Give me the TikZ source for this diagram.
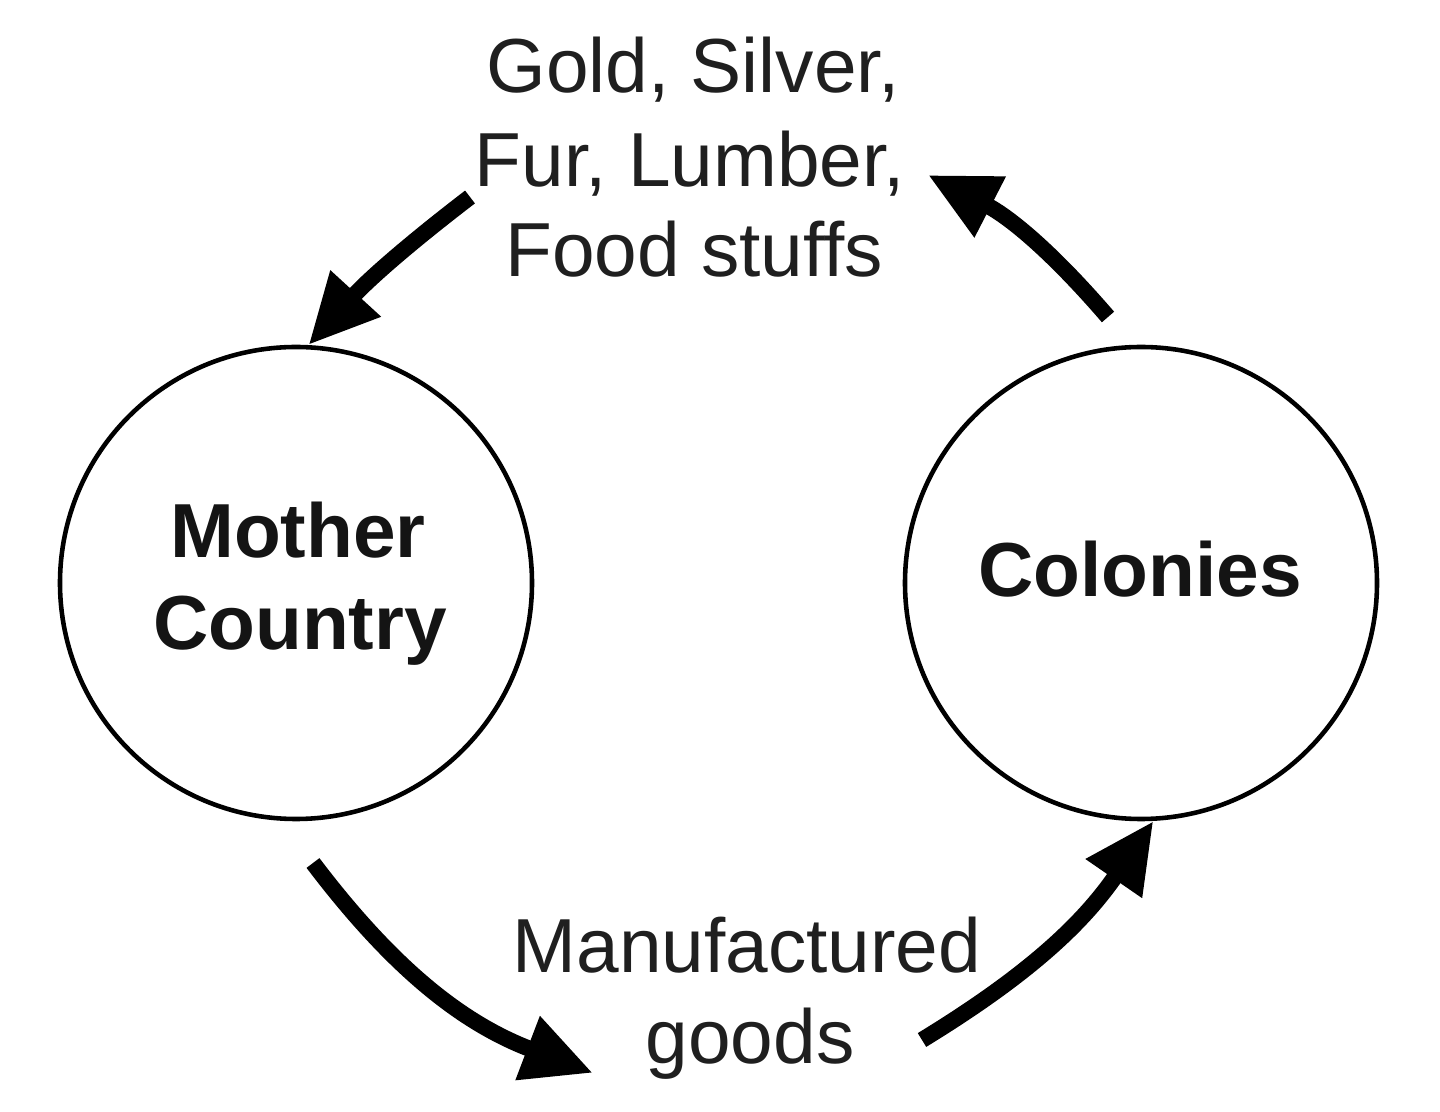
\documentclass[tikz,border=0pt]{standalone}
\usepackage{fontspec}
\setmainfont{Liberation Sans}
\usetikzlibrary{arrows.meta}
\begin{document}
\begin{tikzpicture}[
  circ/.style={draw=black, line width=1.3pt, circle, minimum size=4.72cm, inner sep=0pt},
  lbl/.style={font=\fontsize{21.8}{26.2}\selectfont, anchor=base, inner sep=0pt, text=black!88},
  blbl/.style={font=\fontsize{21.8}{26.2}\selectfont\bfseries, anchor=base, inner sep=0pt, text=black!92},
  flow/.style={line width=4.6pt, -{Triangle[length=0.7cm, width=0.64cm]}}
]
\useasboundingbox (0,0) rectangle (14.4,11.11);
\node[circ] (mother) at (2.96,5.28) {};
\node[circ] (colonies) at (11.41,5.28) {};
\node[blbl] (m1) at (2.98,5.53) {Mother};
\node[blbl] (m2) at (3.00,4.61) {Country};
\node[blbl] (c1) at (11.40,5.14) {Colonies};
\node[lbl] (g1) at (6.93,10.18) {Gold, Silver,};
\node[lbl] (g2) at (6.90,9.24) {Fur, Lumber,};
\node[lbl] (g3) at (6.94,8.34) {Food stuffs};
\node[lbl] (f1) at (7.47,1.38) {Manufactured};
\node[lbl] (f2) at (7.50,0.48) {goods};
\coordinate (a1s) at (4.70,9.14);
\coordinate (a2s) at (11.08,7.94);
\coordinate (a2e) at (9.28,9.36);
\coordinate (a3s) at (3.13,2.48);
\coordinate (a3e) at (5.93,0.38);
\coordinate (a4s) at (9.22,0.71);
\draw[flow] (a1s) to[bend right=5] (mother.87);
\draw[flow] (a2s) to[bend right=11] (a2e);
\draw[flow] (a3s) to[bend right=16] (a3e);
\draw[flow] (a4s) to[bend right=12] (colonies.-87);
\end{tikzpicture}
\end{document}
